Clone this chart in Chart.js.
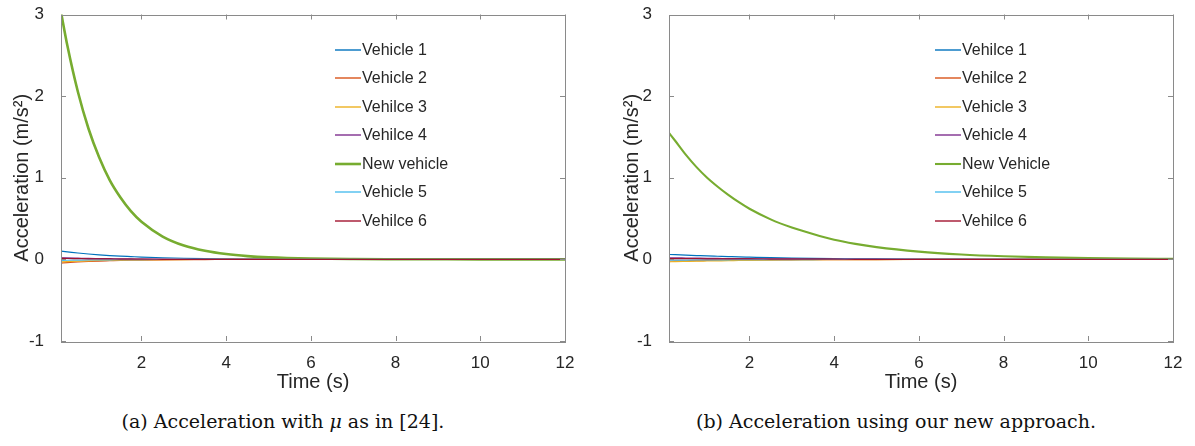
<!DOCTYPE html>
<html>
<head>
<meta charset="utf-8">
<script src="https://cdn.jsdelivr.net/npm/chart.js@4.4.1/dist/chart.umd.min.js"></script>
<style>
  body { margin: 0; background: #fff; }
  #wrap { position: relative; width: 1195px; height: 446px; }
  .panel { position: absolute; top: 0; height: 400px; }
  .caption { position: absolute; top: 410px; font: 19px "DejaVu Serif", "Liberation Serif", serif; color: #111; white-space: nowrap; transform: translateX(-50%); }
</style>
</head>
<body>
<div id="wrap">
  <div class="panel" style="left:0; width:590px;"><canvas id="chartA"></canvas></div>
  <div class="panel" style="left:600px; width:595px;"><canvas id="chartB"></canvas></div>
  <div class="caption" style="left:283px;">(a) Acceleration with <i>μ</i> as in [24].</div>
  <div class="caption" style="left:896px;">(b) Acceleration using our new approach.</div>
</div>
<script>
// time samples (s)
const time = [0.1, 0.25, 0.5, 0.75, 1, 1.25, 1.5, 1.75, 2, 2.5, 3, 3.5, 4, 4.5, 5, 6, 7, 8, 9, 10, 11, 12];
const xTicks = [2, 4, 6, 8, 10, 12];
const yTicks = [-1, 0, 1, 2, 3];

// (a) mu as in [24]
const labelsA = ['Vehicle 1', 'Vehicle 2', 'Vehilce 3', 'Vehilce 4', 'New vehicle', 'Vehicle 5', 'Vehilce 6'];
const v1A  = [0.10, 0.092, 0.078, 0.066, 0.056, 0.047, 0.040, 0.034, 0.028, 0.020, 0.014, 0.009, 0.006, 0.004, 0.003, 0.001, 0, 0, 0, 0, 0, 0];
const v2A  = [-0.045, -0.040, -0.032, -0.026, -0.021, -0.017, -0.013, -0.010, -0.008, -0.005, -0.003, -0.002, -0.001, 0, 0, 0, 0, 0, 0, 0, 0, 0];
const v3A  = [-0.030, -0.027, -0.022, -0.018, -0.014, -0.011, -0.009, -0.007, -0.005, -0.003, -0.002, -0.001, 0, 0, 0, 0, 0, 0, 0, 0, 0, 0];
const v4A  = [0.020, 0.018, 0.015, 0.012, 0.010, 0.008, 0.006, 0.005, 0.004, 0.002, 0.001, 0, 0, 0, 0, 0, 0, 0, 0, 0, 0, 0];
const newA = [3.03, 2.62, 2.05, 1.60, 1.25, 0.97, 0.76, 0.59, 0.46, 0.28, 0.17, 0.105, 0.065, 0.04, 0.025, 0.01, 0.004, 0.002, 0.001, 0, 0, 0];
const v5A  = [-0.012, -0.011, -0.009, -0.007, -0.006, -0.005, -0.004, -0.003, -0.002, -0.001, 0, 0, 0, 0, 0, 0, 0, 0, 0, 0, 0, 0];
const v6A  = [0.012, 0.011, 0.009, 0.007, 0.006, 0.005, 0.004, 0.003, 0.002, 0.001, 0, 0, 0, 0, 0, 0, 0, 0, 0, 0, 0, 0];

// (b) new approach
const labelsB = ['Vehilce 1', 'Vehilce 2', 'Vehicle 3', 'Vehicle 4', 'New Vehicle', 'Vehilce 5', 'Vehilce 6'];
const v1B  = [0.060, 0.057, 0.052, 0.047, 0.042, 0.038, 0.034, 0.030, 0.027, 0.021, 0.016, 0.012, 0.009, 0.007, 0.005, 0.003, 0.002, 0.001, 0, 0, 0, 0];
const v2B  = [-0.020, -0.019, -0.017, -0.015, -0.013, -0.012, -0.010, -0.009, -0.008, -0.006, -0.005, -0.004, -0.003, -0.002, -0.002, -0.001, 0, 0, 0, 0, 0, 0];
const v3B  = [-0.030, -0.028, -0.025, -0.022, -0.020, -0.018, -0.016, -0.014, -0.012, -0.009, -0.007, -0.005, -0.004, -0.003, -0.002, -0.001, -0.001, 0, 0, 0, 0, 0];
const v4B  = [0.020, 0.019, 0.017, 0.015, 0.013, 0.012, 0.010, 0.009, 0.008, 0.006, 0.005, 0.004, 0.003, 0.002, 0.002, 0.001, 0, 0, 0, 0, 0, 0];
const newB = [1.55, 1.45, 1.28, 1.13, 1.00, 0.89, 0.79, 0.70, 0.62, 0.49, 0.39, 0.31, 0.24, 0.19, 0.15, 0.095, 0.06, 0.038, 0.024, 0.015, 0.009, 0.006];
const v5B  = [-0.010, -0.009, -0.008, -0.007, -0.006, -0.006, -0.005, -0.004, -0.004, -0.003, -0.002, -0.002, -0.001, -0.001, 0, 0, 0, 0, 0, 0, 0, 0];
const v6B  = [0.010, 0.009, 0.009, 0.008, 0.007, 0.006, 0.006, 0.005, 0.005, 0.004, 0.003, 0.002, 0.002, 0.001, 0.001, 0, 0, 0, 0, 0, 0, 0];

const colors = ['#0072BD', '#D95319', '#EDB120', '#7E2F8E', '#77AC30', '#4DBEEE', '#A2142F'];
const FONT = '"Liberation Sans", Arial, sans-serif';
const AXIS = '#8a8a8a';
const TEXT = '#262626';

// box, inward ticks and in-plot legend like the MATLAB figure
const matlabAxes = {
  id: 'matlabAxes',
  afterDraw(chart, args, opts) {
    const ctx = chart.ctx, a = chart.chartArea;
    const xs = chart.scales.x, ys = chart.scales.y;
    ctx.save();
    ctx.strokeStyle = AXIS;
    ctx.lineWidth = 1;
    ctx.strokeRect(Math.round(a.left) + 0.5, Math.round(a.top) + 0.5, Math.round(a.right - a.left), Math.round(a.bottom - a.top));
    ctx.beginPath();
    xTicks.forEach(v => {
      const px = Math.round(xs.getPixelForValue(v)) + 0.5;
      ctx.moveTo(px, a.bottom); ctx.lineTo(px, a.bottom - 5);
      ctx.moveTo(px, a.top); ctx.lineTo(px, a.top + 5);
    });
    yTicks.forEach(v => {
      const py = Math.round(ys.getPixelForValue(v)) + 0.5;
      ctx.moveTo(a.left, py); ctx.lineTo(a.left + 5, py);
      ctx.moveTo(a.right, py); ctx.lineTo(a.right - 5, py);
    });
    ctx.stroke();

    // legend
    ctx.font = '16px ' + FONT;
    ctx.textBaseline = 'middle';
    chart.data.datasets.forEach((ds, i) => {
      const y = Math.round(a.top + opts.top + i * 28.5);
      const x = a.left + opts.left;
      ctx.strokeStyle = ds.borderColor;
      ctx.lineWidth = i === 4 ? ds.borderWidth : 1.4;
      ctx.beginPath(); ctx.moveTo(x, y); ctx.lineTo(x + 26, y); ctx.stroke();
      ctx.fillStyle = TEXT;
      ctx.fillText(ds.label, x + 27, y + 1);
    });
    ctx.restore();
  }
};

function makeChart(id, labels, series, greenWidth, yWidth, rightPad, titlePad, legendPos) {
  new Chart(document.getElementById(id), {
    type: 'line',
    data: {
      datasets: series.map((vals, i) => ({
        label: labels[i],
        data: vals.map((v, k) => ({ x: time[k], y: v })),
        borderColor: colors[i],
        borderWidth: i === 4 ? greenWidth : 1.2,
        pointRadius: 0,
        cubicInterpolationMode: 'monotone',
        order: 10 - i
      }))
    },
    options: {
      responsive: true,
      maintainAspectRatio: false,
      animation: false,
      events: [],
      layout: { padding: { top: 14.5, right: rightPad, left: 0, bottom: 0 } },
      plugins: {
        legend: { display: false },
        tooltip: { enabled: false },
        matlabAxes: legendPos
      },
      scales: {
        x: {
          type: 'linear', min: 0.1, max: 12,
          afterBuildTicks: s => { s.ticks = xTicks.map(v => ({ value: v })); },
          afterFit: s => { s.height = 59; },
          grid: { display: false },
          border: { display: false },
          ticks: { color: TEXT, font: { family: FONT, size: 17 }, padding: 4 },
          title: { display: true, text: 'Time (s)', color: TEXT, font: { family: FONT, size: 20, lineHeight: 1.2 }, padding: { top: 0, bottom: 6 } }
        },
        y: {
          min: -1, max: 3,
          afterBuildTicks: s => { s.ticks = yTicks.map(v => ({ value: v })); },
          afterFit: s => { s.width = yWidth; },
          grid: { display: false },
          border: { display: false },
          ticks: { color: TEXT, font: { family: FONT, size: 17, lineHeight: 0.5 }, padding: 9 },
          title: { display: true, text: 'Acceleration (m/s²)', color: TEXT, font: { family: FONT, size: 20, lineHeight: 1.2 }, padding: { top: titlePad, bottom: 0 } }
        }
      }
    },
    plugins: [matlabAxes]
  });
}

makeChart('chartA', labelsA, [v1A, v2A, v3A, v4A, newA, v5A, v6A], 2.6, 61, 25, 10, { left: 274, top: 35 });
makeChart('chartB', labelsB, [v1B, v2B, v3B, v4B, newB, v5B, v6B], 2.1, 69, 22, 20, { left: 266, top: 35 });
</script>
</body>
</html>
